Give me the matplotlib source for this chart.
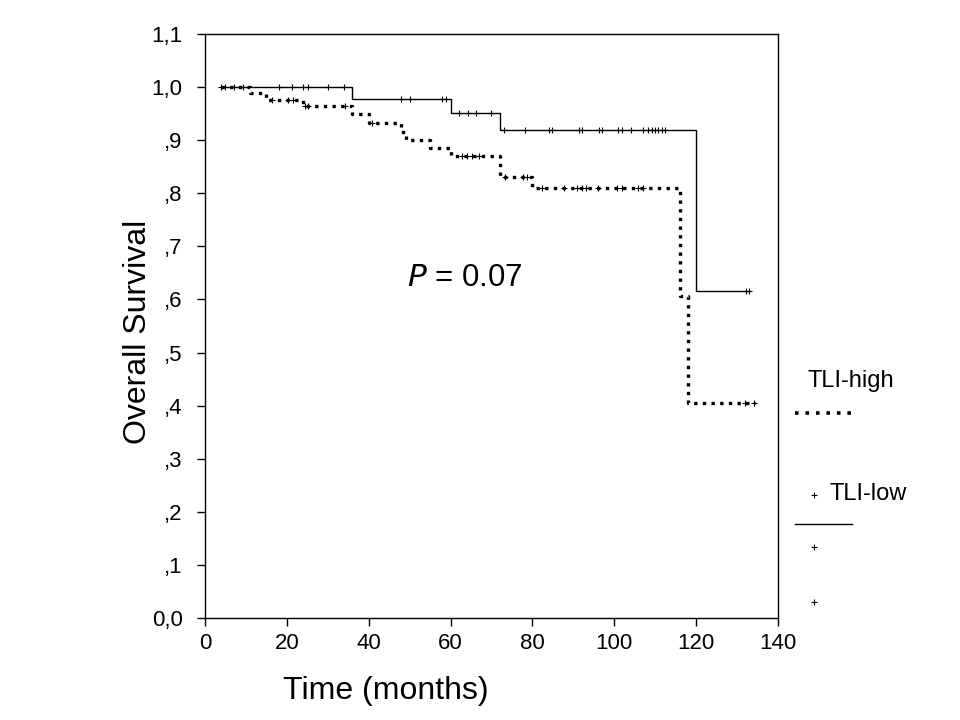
import matplotlib
matplotlib.use("Agg")
import matplotlib.pyplot as plt
import numpy as np
from matplotlib.lines import Line2D

plt.rcParams["font.family"] = ["Liberation Sans", "DejaVu Sans"]

# Kaplan-Meier steps (time in months, survival)
low_times = [4, 36, 60, 72, 120, 133]
low_surv = [1.0, 0.977, 0.952, 0.920, 0.616, 0.616]
low_censored = [4, 7, 9.4, 18, 21.2, 23.9, 25.2, 30.1, 34, 48, 50, 58, 58.8,
                62, 64.2, 66.1, 70, 73.1, 78.2, 84, 84.9, 91.5, 92, 96.3, 96.9,
                101, 101.8, 104.1, 107.1, 108.3, 109.1, 110, 110.8, 111.6,
                112.4, 132.2, 133]

high_times = [4, 11, 15, 24, 36, 40, 48, 49, 55, 60, 72, 80, 116, 118, 134.5]
high_surv = [1.0, 0.988, 0.975, 0.965, 0.949, 0.933, 0.916, 0.901, 0.885,
             0.870, 0.831, 0.809, 0.607, 0.404, 0.404]
high_censored = [5, 16.3, 20.4, 21.4, 24.4, 25.2, 34.2, 40.7, 62.7, 63.9,
                 65.3, 66.9, 73.3, 77.8, 78.8, 82.3, 87.6, 90.8, 92, 93.2,
                 96.1, 100.6, 101.8, 105.9, 107.1, 131.9, 134.1]

x_ticks = [0, 20, 40, 60, 80, 100, 120, 140]
y_ticks = [0.0, 0.1, 0.2, 0.3, 0.4, 0.5, 0.6, 0.7, 0.8, 0.9, 1.0, 1.1]
y_tick_labels = ["0,0", ",1", ",2", ",3", ",4", ",5", ",6", ",7", ",8", ",9",
                 "1,0", "1,1"]

series_labels = ["TLI-high", "TLI-low"]
p_text = "= 0.07"


def level_at(times, surv, t):
    idx = np.searchsorted(times, t, side="right") - 1
    return np.asarray(surv)[np.clip(idx, 0, len(surv) - 1)]


fig = plt.figure(figsize=(9.6, 7.2), dpi=100)
fig.patch.set_facecolor("white")
ax = fig.add_axes([0.2135, 0.1417, 0.5969, 0.8111])

dotted = (0, (1, 1.6))
ax.step(high_times, high_surv, where="post", color="black", lw=2.4,
        linestyle=dotted, dash_capstyle="butt")
ax.step(low_times, low_surv, where="post", color="black", lw=1.0)

ax.plot(low_censored, level_at(low_times, low_surv, low_censored), "+",
        color="black", ms=4, mew=0.8)
ax.plot(high_censored, level_at(high_times, high_surv, high_censored), "+",
        color="black", ms=4, mew=0.8)

ax.set_xlim(0, 140)
ax.set_ylim(0, 1.1)
ax.set_xticks(x_ticks)
ax.set_yticks(y_ticks)
ax.set_yticklabels(y_tick_labels)
ax.tick_params(direction="out", length=6, width=1, labelsize=16)
ax.tick_params(axis="y", pad=10)
ax.tick_params(axis="x", pad=5)
for s in ax.spines.values():
    s.set_linewidth(1)

ax.set_xlabel("Time (months)", fontsize=23)
ax.xaxis.set_label_coords(0.316, -0.1)
ax.set_ylabel("Overall Survival", fontsize=23)
ax.yaxis.set_label_coords(-0.09, 0.49)

ax.text(49.4, 0.64, "$\\it{P}$ " + p_text, fontsize=22.5, ha="left",
        va="center")

# SPSS-style legend outside the plot
fig.text(808 / 960, 1 - 381 / 720, series_labels[0], fontsize=17,
         ha="left", va="center")
fig.add_artist(Line2D([795 / 960, 852 / 960], [1 - 413 / 720] * 2,
                      color="black", lw=2.6, linestyle=(0, (1, 1.9)),
                      dash_capstyle="butt"))
fig.text(830 / 960, 1 - 494 / 720, series_labels[1], fontsize=17,
         ha="left", va="center")
fig.add_artist(Line2D([795 / 960, 852 / 960], [1 - 524 / 720] * 2,
                      color="black", lw=1.0))
for yy in [495, 547, 602]:
    fig.add_artist(Line2D([814 / 960], [1 - yy / 720], marker="+",
                          color="black", ms=4, mew=0.8, linestyle="none"))

fig.savefig("out.png", dpi=100)
